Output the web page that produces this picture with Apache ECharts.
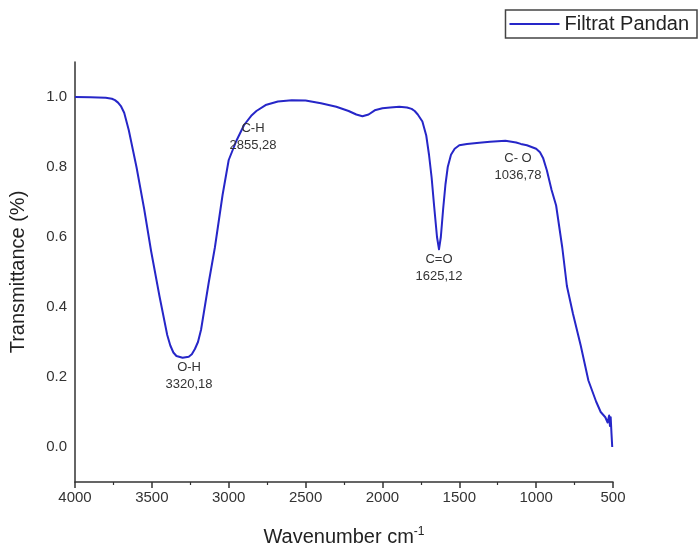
<!DOCTYPE html>
<html>
<head>
<meta charset="utf-8">
<script src="https://cdn.jsdelivr.net/npm/echarts@6/dist/echarts.min.js"></script>
<style>
html,body{margin:0;padding:0;background:#fff;}
#chart{width:699px;height:552px;}
</style>
</head>
<body>
<div id="chart"></div>
<script>
// Wavenumber (cm-1) and transmittance values
var wavenumbers = [4000,3900,3800,3760,3740,3720,3700,3680,3650,3600,3550,3505,3450,3400,3380,3360,3340,3300,3260,3240,3220,3200,3180,3130,3090,3040,3000,2950,2900,2850,2820,2760,2680,2590,2500,2400,2300,2220,2170,2130,2090,2050,2000,1950,1890,1840,1810,1790,1770,1740,1715,1697,1680,1664,1645,1632,1620,1605,1590,1575,1554,1530,1500,1450,1370,1300,1200,1130,1100,1060,1000,975,955,930,900,870,830,800,760,710,660,610,580,550,535,525,520,515,510,505];
var transmittance = [1.000,0.999,0.998,0.995,0.991,0.984,0.973,0.955,0.905,0.800,0.680,0.560,0.430,0.320,0.290,0.270,0.260,0.255,0.258,0.265,0.280,0.300,0.335,0.470,0.570,0.720,0.820,0.875,0.920,0.948,0.960,0.977,0.987,0.991,0.990,0.982,0.972,0.960,0.950,0.945,0.950,0.962,0.968,0.970,0.972,0.970,0.966,0.960,0.950,0.930,0.890,0.835,0.770,0.690,0.600,0.565,0.600,0.680,0.750,0.800,0.835,0.852,0.862,0.866,0.869,0.872,0.875,0.870,0.866,0.862,0.852,0.842,0.826,0.790,0.735,0.690,0.570,0.460,0.380,0.290,0.190,0.130,0.100,0.085,0.070,0.090,0.060,0.085,0.040,0.000];
var seriesName = 'Filtrat Pandan';
var yTicks = [0.0,0.2,0.4,0.6,0.8,1.0];
// Peak annotations: label text and anchor (wavenumber, transmittance)
var peakLabels = ['C-H\n2855,28','O-H\n3320,18','C=O\n1625,12','C- O\n1036,78'];
var peakX = [2842,3258,1632,1118];
var peakY = [0.885,0.204,0.511,0.800];

var seriesData = wavenumbers.map(function(w,i){return [w, transmittance[i]];});
var markData = peakLabels.map(function(t,i){return {name:t, coord:[peakX[i], peakY[i]]};});

var chart = echarts.init(document.getElementById('chart'));
var font = 'Liberation Sans, Arial, sans-serif';
chart.setOption({
  animation:false,
  backgroundColor:'#fff',
  textStyle:{fontFamily:font},
  grid:{left:75, right:86, top:62, bottom:65, containLabel:false},
  legend:{
    right:2, top:10,
    data:[seriesName],
    icon:'rect', itemWidth:50, itemHeight:2,
    padding:[4,8,4,4],
    borderColor:'#444', borderWidth:1.5,
    textStyle:{fontSize:20, color:'#222', fontFamily:font}
  },
  xAxis:{
    type:'value', inverse:true, min:500, max:4000, interval:500,
    name:'Wavenumber cm{sup|-1}', nameLocation:'middle', nameGap:44,
    nameTextStyle:{fontSize:20, color:'#222', fontFamily:font,
      rich:{sup:{fontSize:12, verticalAlign:'top', padding:[0,0,10,0], color:'#222'}}},
    axisLine:{show:true, onZero:false, lineStyle:{color:'#333', width:1.5}},
    axisTick:{show:true, inside:false, length:6, lineStyle:{color:'#333', width:1.5}},
    minorTick:{show:true, splitNumber:2, length:3, lineStyle:{color:'#333', width:1.2}},
    axisLabel:{fontSize:15, color:'#333', margin:8, formatter:function(v){return String(v);}},
    splitLine:{show:false}
  },
  yAxis:{
    type:'value', min:-0.1, max:1.1,
    name:'Transmittance (%)', nameLocation:'middle', nameGap:47,
    nameTextStyle:{fontSize:20, color:'#222', fontFamily:font},
    axisLine:{show:true, onZero:false, lineStyle:{color:'#333', width:1.5}},
    axisTick:{show:false, customValues:yTicks},
    axisLabel:{fontSize:15, color:'#333', margin:8, customValues:yTicks,
      formatter:function(v){return v.toFixed(1);}},
    splitLine:{show:false}
  },
  series:[{
    name:seriesName, type:'line', data:seriesData,
    showSymbol:false, symbol:'none', smooth:false,
    lineStyle:{color:'#2626c8', width:2, join:'round'},
    itemStyle:{color:'#2626c8'},
    markPoint:{
      symbol:'circle', symbolSize:0, silent:true,
      label:{show:true, position:'inside', formatter:'{b}', fontSize:13, lineHeight:17, color:'#333', fontFamily:font, align:'center'},
      data:markData
    }
  }]
});
</script>
</body>
</html>
